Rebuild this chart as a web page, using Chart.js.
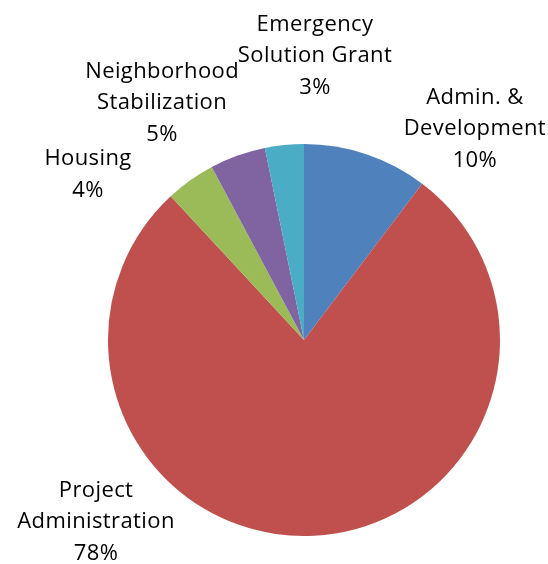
<!DOCTYPE html>
<html>
<head>
<meta charset="utf-8">
<script src="https://cdn.jsdelivr.net/npm/chart.js@4.4.0/dist/chart.umd.min.js"></script>
<style>
  html, body { margin: 0; padding: 0; background: #fff; }
  #wrap { width: 548px; height: 564px; position: relative; }
</style>
</head>
<body>
<div id="wrap"><canvas id="pie"></canvas></div>
<script>
// Budget shares, clockwise from 12 o'clock
const categories = [
  ["Admin. &", "Development"],
  ["Project", "Administration"],
  ["Housing"],
  ["Neighborhood", "Stabilization"],
  ["Emergency", "Solution Grant"]
];
const shares = [10.3, 77.8, 4.1, 4.6, 3.2];
const colors = ["#4F81BD", "#C0504D", "#9BBB59", "#8064A2", "#4BACC6"];

// where each label sits, relative to pie centre, in units of radius (Excel best fit)
const labelSpots = [
  [0.872, -1.077],
  [-1.061, 0.929],
  [-1.102, -0.842],
  [-0.724, -1.209],
  [0.056, -1.449]
];

const pieLabels = {
  id: "pieLabels",
  afterDraw(chart) {
    const ctx = chart.ctx;
    const arc = chart.getDatasetMeta(0).data[0];
    const cx = arc.x, cy = arc.y, r = arc.outerRadius;
    const total = shares.reduce((a, b) => a + b, 0);
    ctx.save();
    ctx.font = "22px 'Open Sans'";
    ctx.fillStyle = "#000";
    ctx.textAlign = "center";
    ctx.textBaseline = "middle";
    ctx.letterSpacing = "0.4px";
    const lh = 31.5;
    categories.forEach((cat, i) => {
      const lines = cat.concat([Math.round(shares[i] / total * 100) + "%"]);
      const x = cx + labelSpots[i][0] * r;
      const y = cy + labelSpots[i][1] * r;
      lines.forEach((t, j) => {
        ctx.fillText(t, x, y + (j - (lines.length - 1) / 2) * lh);
      });
    });
    ctx.restore();
  }
};

new Chart(document.getElementById("pie"), {
  type: "pie",
  data: {
    labels: categories.map(c => c.join(" ")),
    datasets: [{
      data: shares,
      backgroundColor: colors,
      borderWidth: 0
    }]
  },
  options: {
    responsive: true,
    maintainAspectRatio: false,
    animation: false,
    layout: { padding: { left: 108, right: 48, top: 144, bottom: 28 } },
    plugins: {
      legend: { display: false },
      tooltip: { enabled: false }
    }
  },
  plugins: [pieLabels]
});
</script>
</body>
</html>
